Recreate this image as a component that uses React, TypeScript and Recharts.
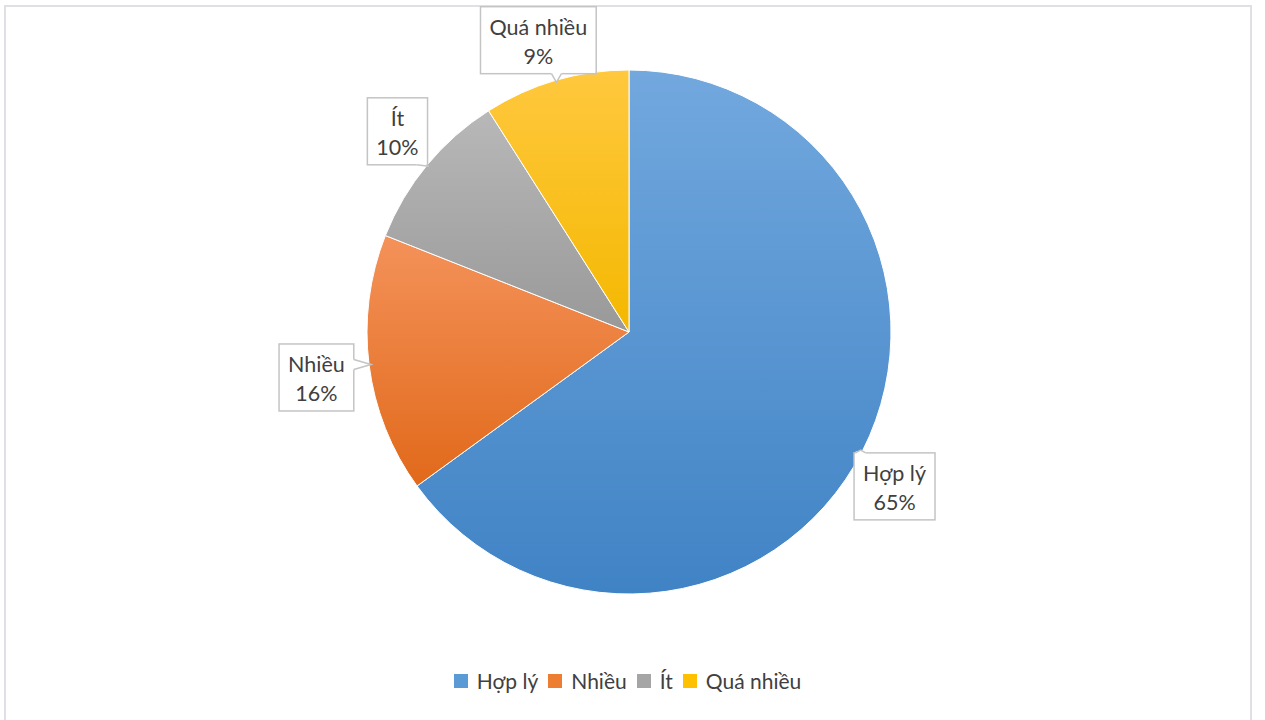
import React from 'react';
import { PieChart, Pie, Cell, Legend } from 'recharts';

const categories = ['Hợp lý', 'Nhiều', 'Ít', 'Quá nhiều'];
const shares = [65, 16, 10, 9];

const data = categories.map((name, i) => ({ name, value: shares[i] }));

const GRADIENTS = [
  { top: '#72a8de', bottom: '#4083c5' },
  { top: '#f4925a', bottom: '#e1691a' },
  { top: '#b8b8b8', bottom: '#999999' },
  { top: '#ffc83e', bottom: '#f4b800' },
];
const SWATCH = ['#5b9bd5', '#ed7d31', '#a5a5a5', '#ffc000'];
// small best-fit shifts for the callouts, like the spreadsheet places them
const CALLOUT_NUDGE = [
  [-8, 15],
  [-8, 7],
  [5, -5],
  [-5, 3],
];

const FONT = 'Lato, "Open Sans", "Noto Sans", sans-serif';
const FONT_SIZE = 21.5;
const TEXT_COLOR = '#404040';
const BOX_STROKE = '#c4c4c4';
const RAD = Math.PI / 180;

let ctx: CanvasRenderingContext2D | null = null;
function textWidth(s: string, size: number) {
  if (!ctx) ctx = document.createElement('canvas').getContext('2d');
  if (!ctx) return s.length * size * 0.5;
  ctx.font = `${size}px ${FONT}`;
  return ctx.measureText(s).width;
}

const renderCallout = (props: any) => {
  const { cx, cy, midAngle, outerRadius, name, percent, index } = props;
  const ux = Math.cos(-midAngle * RAD);
  const uy = Math.sin(-midAngle * RAD);
  const pct = `${Math.round((percent ?? 0) * 100)}%`;
  const [nx, ny] = CALLOUT_NUDGE[index] ?? [0, 0];
  const w = Math.max(textWidth(name, FONT_SIZE), textWidth(pct, FONT_SIZE)) + 18;
  const h = 67;
  const bx = cx + (outerRadius + 45) * ux + nx;
  const by = cy + (outerRadius + 45) * uy + ny;
  const x0 = bx - w / 2;
  const y0 = by - h / 2;
  const x1 = x0 + w;
  const y1 = y0 + h;
  const tx = cx + (outerRadius - 2) * ux;
  const ty = cy + (outerRadius - 2) * uy;

  const dx = tx < x0 ? x0 - tx : tx > x1 ? tx - x1 : 0;
  const dy = ty < y0 ? y0 - ty : ty > y1 ? ty - y1 : 0;
  let pointer: React.ReactNode = null;
  if (dx > 0 || dy > 0) {
    let a: [number, number];
    let b: [number, number];
    if (dy >= dx) {
      const ey = ty > y1 ? y1 : y0;
      const sx = Math.min(Math.max(tx - 5, x0 + 1), x1 - 11);
      a = [sx, ey];
      b = [sx + 10, ey];
    } else {
      const ex = tx > x1 ? x1 : x0;
      const sy = Math.min(Math.max(ty - 5, y0 + 1), y1 - 11);
      a = [ex, sy];
      b = [ex, sy + 10];
    }
    pointer = (
      <g>
        <polygon points={`${a[0]},${a[1]} ${tx},${ty} ${b[0]},${b[1]}`} fill="#fff" stroke="none" />
        <line x1={a[0]} y1={a[1]} x2={b[0]} y2={b[1]} stroke="#fff" strokeWidth={3} />
        <polyline
          points={`${a[0]},${a[1]} ${tx},${ty} ${b[0]},${b[1]}`}
          fill="none"
          stroke={BOX_STROKE}
          strokeWidth={1.5}
        />
      </g>
    );
  }

  return (
    <g>
      <rect x={x0} y={y0} width={w} height={h} fill="#fff" stroke={BOX_STROKE} strokeWidth={1.5} />
      {pointer}
      <text x={bx} y={y0 + 28} textAnchor="middle" fontSize={FONT_SIZE} fontFamily={FONT} fill={TEXT_COLOR}>
        {name}
      </text>
      <text x={bx} y={y0 + 57} textAnchor="middle" fontSize={FONT_SIZE} fontFamily={FONT} fill={TEXT_COLOR}>
        {pct}
      </text>
    </g>
  );
};

const renderLegend = () => (
  <div
    style={{
      display: 'flex',
      justifyContent: 'center',
      alignItems: 'center',
      fontFamily: FONT,
      fontSize: 21,
      color: TEXT_COLOR,
    }}
  >
    {categories.map((name, i) => (
      <span key={name} style={{ display: 'flex', alignItems: 'center', marginRight: 10 }}>
        <span
          style={{
            width: 14,
            height: 14,
            background: SWATCH[i],
            display: 'inline-block',
            marginRight: 9,
          }}
        />
        {name}
      </span>
    ))}
  </div>
);

export default function App() {
  return (
    <div style={{ position: 'fixed', left: 0, top: 0, width: 1265, height: 720, background: '#fff' }}>
      <div
        style={{
          position: 'absolute',
          left: 4,
          top: 5,
          width: 1248,
          height: 730,
          border: '2px solid #dfe0e6',
          boxSizing: 'border-box',
        }}
      />
      <div style={{ position: 'absolute', left: 0, top: 0 }}>
        <PieChart width={1265} height={720} margin={{ top: 0, right: 0, bottom: 0, left: 0 }}>
          <defs>
            {GRADIENTS.map((g, i) => (
              <linearGradient key={i} id={`slice-${i}`} x1="0" y1="0" x2="0" y2="1">
                <stop offset="0%" stopColor={g.top} />
                <stop offset="100%" stopColor={g.bottom} />
              </linearGradient>
            ))}
          </defs>
          <Pie
            data={data}
            dataKey="value"
            nameKey="name"
            cx={629}
            cy={332}
            outerRadius={262}
            startAngle={90}
            endAngle={-270}
            stroke="#fff"
            strokeWidth={1}
            label={renderCallout}
            labelLine={false}
            isAnimationActive={false}
          >
            {data.map((d, i) => (
              <Cell key={d.name} fill={`url(#slice-${i})`} />
            ))}
          </Pie>
          <Legend
            verticalAlign="bottom"
            content={renderLegend}
            wrapperStyle={{ top: 668, bottom: 'auto', left: 0, width: 1265 }}
          />
        </PieChart>
      </div>
    </div>
  );
}
